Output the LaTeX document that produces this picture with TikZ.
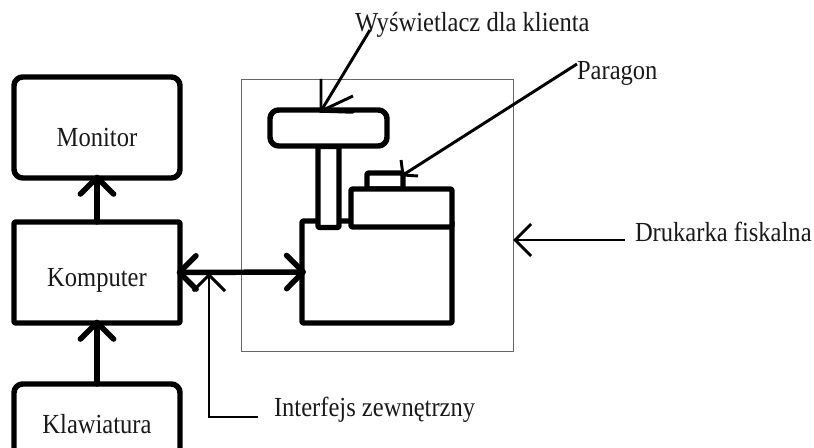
\documentclass[tikz,border=0pt]{standalone}
\usepackage{fontspec}
\setmainfont[FakeStretch=0.89]{Liberation Serif}
\usetikzlibrary{arrows.meta}
\tikzset{
  x=0.75pt, y=-0.75pt,
  heavy/.style={line width=4.1pt, line join=round, line cap=round},
  light/.style={line width=2.2pt, line join=miter},
  unit/.style={draw, heavy, fill=white, inner sep=0pt, outer sep=0pt, rounded corners=1pt},
  roundunit/.style={unit, rounded corners=6.5pt},
  frame/.style={draw=black!60, line width=0.75pt, inner sep=0pt, outer sep=0pt},
  caption/.style={inner sep=0pt, outer sep=0pt, font=\fontsize{20.7}{22}\selectfont, text=black!90},
  bigbarb/.tip={Straight Barb[length=12.5pt, width=25pt, line width=4.1pt, round]},
  bigtip/.style={-bigbarb, shorten >=-2.5pt},
  bigtips/.style={bigbarb-bigbarb, shorten >=-3pt, shorten <=-2.5pt},
  thintip/.style={-{Straight Barb[length=12pt, width=24pt, line width=2.2pt]}},
}
\begin{document}
\begin{tikzpicture}
\useasboundingbox (0,0) rectangle (814,448);
\clip (0,0) rectangle (814,448);

% computer side
\node[roundunit, minimum width=124.5pt, minimum height=75.75pt] (monitor) at (97,127.5) {};
\node[unit, minimum width=124.5pt, minimum height=75.75pt] (komputer) at (97,272.5) {};
\node[roundunit, minimum width=124.5pt, minimum height=63pt] (klawiatura) at (97,426) {};
\node[caption] (tmonitor) at (97,137.5) {Monitor};
\node[caption] (tkomputer) at (97,280) {Komputer};
\node[caption] (tklawiatura) at (97,424) {Klawiatura};

% fiscal printer enclosure
\node[frame, minimum width=204pt, minimum height=204pt] (obudowa) at (377,216) {};

% cash register
\node[unit, minimum width=112.5pt, minimum height=76.5pt] (korpus) at (377,272) {};
\node[unit, minimum width=27pt, minimum height=12pt] (papier) at (385,181) {};
\node[unit, minimum width=75.75pt, minimum height=28.5pt] (drukarka) at (401.5,208) {};
\node[unit, minimum width=15.75pt, minimum height=60.75pt] (slupek) at (328.5,187) {};
\node[roundunit, minimum width=87.75pt, minimum height=27pt] (wyswietlacz) at (328.5,128) {};

% data links
\draw[heavy, bigtip] (komputer.north) -- (monitor.south);
\draw[heavy, bigtip] (klawiatura.north) -- (komputer.south);
\draw[heavy, bigtips] (komputer.east) -- (korpus.west);

% callout captions
\node[caption, anchor=west] (twysw) at (355,25) {Wyświetlacz dla klienta};
\node[caption, anchor=west] (tparagon) at (577,73) {Paragon};
\node[caption, anchor=west] (tdruk) at (635,232) {Drukarka fiskalna};
\node[caption, anchor=west] (tinterfejs) at (274,410) {Interfejs zewnętrzny};

% free ends of the callout lines
\coordinate (koniecw) at (370,30);
\coordinate (grotw) at (321,111);
\coordinate (koniecp) at (577,64);
\coordinate (grotp) at (403,175);
\coordinate (koniecd) at (625,240);
\coordinate (koniecz) at (258,417);
\coordinate (kolano) at (209,417);
\coordinate (grotz) at (209,273);

% callout lines
\draw[light] (koniecw) -- (grotw);
\draw[light] (321,79) -- (grotw) -- (353,96);
\draw[heavy, line width=2.6pt] (grotw) -- (353,112);
\draw[light] (koniecp) -- (grotp);
\draw[light] (401,160) -- (grotp) -- (418,176);
\draw[light, thintip] (koniecd) -- (obudowa.east |- koniecd);
\draw[light, thintip] (koniecz) -- (kolano) -- (grotz);
\end{tikzpicture}
\end{document}
